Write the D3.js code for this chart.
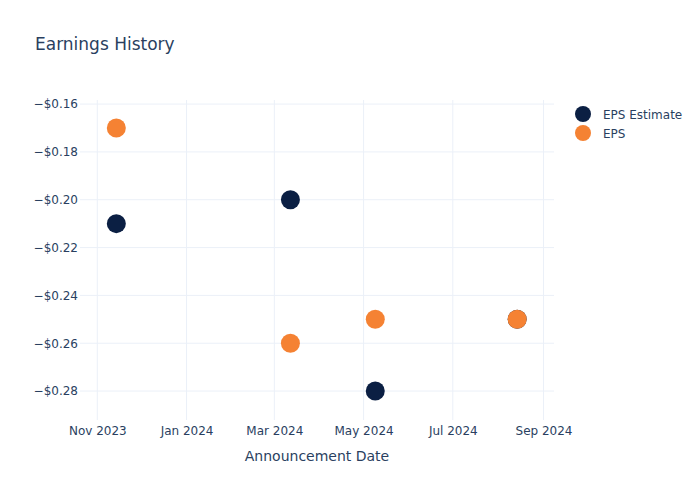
<!DOCTYPE html>
<html>
<head>
<meta charset="utf-8">
<script src="https://cdn.jsdelivr.net/npm/d3@7"></script>
<style>
  html, body { margin: 0; padding: 0; background: #fff; }
  svg { display: block; font-family: "DejaVu Sans", sans-serif; }
</style>
</head>
<body>
<svg id="chart" width="700" height="500"></svg>
<script>
const dates = ["2023-11-14", "2024-03-12", "2024-05-09", "2024-08-14"];
const epsEstimate = [-0.21, -0.20, -0.28, -0.25];
const eps = [-0.17, -0.26, -0.25, -0.25];
const seriesNames = ["EPS Estimate", "EPS"];
const seriesColors = ["#0b1f43", "#f58233"];
const yTicks = [-0.28, -0.26, -0.24, -0.22, -0.20, -0.18, -0.16];

const W = 700, H = 500;
const m = {l: 80, r: 146, t: 100, b: 80};
const svg = d3.select("#chart");
const parse = d3.utcParse("%Y-%m-%d");

const x = d3.scaleUtc()
  .domain([new Date(Date.UTC(2023, 9, 20, 4)), new Date(Date.UTC(2024, 8, 8, 4))])
  .range([m.l, W - m.r]);
const y = d3.scaleLinear()
  .domain([-0.2921, -0.1583])
  .range([H - m.b, m.t]);

const textColor = "#2a3f5f";
const gridColor = "#ebf0f8";

// grid
const xTicks = x.ticks(d3.utcMonth.every(2));
svg.append("g").selectAll("line").data(xTicks).join("line")
  .attr("x1", d => x(d)).attr("x2", d => x(d))
  .attr("y1", m.t).attr("y2", H - m.b)
  .attr("stroke", gridColor).attr("stroke-width", 1);
svg.append("g").selectAll("line").data(yTicks).join("line")
  .attr("x1", m.l).attr("x2", W - m.r)
  .attr("y1", d => y(d)).attr("y2", d => y(d))
  .attr("stroke", gridColor).attr("stroke-width", 1);

// axes
const fmtY = d => (d < 0 ? "\u2212" : "") + "$" + Math.abs(d).toFixed(2);
const yAxis = d3.axisLeft(y).tickValues(yTicks).tickFormat(fmtY).tickSize(0).tickPadding(2);
const gy = svg.append("g").attr("transform", `translate(${m.l},0)`).call(yAxis);
gy.select(".domain").remove();
gy.selectAll("text").attr("fill", textColor).attr("font-size", 12)
  .attr("font-family", "DejaVu Sans, sans-serif");

const xAxis = d3.axisBottom(x).tickValues(xTicks).tickFormat(d3.utcFormat("%b %Y")).tickSize(0).tickPadding(6);
const gx = svg.append("g").attr("transform", `translate(0,${H - m.b})`).call(xAxis);
gx.select(".domain").remove();
gx.selectAll("text").attr("fill", textColor).attr("font-size", 12)
  .attr("font-family", "DejaVu Sans, sans-serif");

// points
const series = [epsEstimate, eps];
series.forEach((vals, si) => {
  svg.append("g").selectAll("circle").data(vals).join("circle")
    .attr("cx", (d, i) => x(parse(dates[i])))
    .attr("cy", d => y(d))
    .attr("r", 9.5)
    .attr("fill", seriesColors[si]);
});

// title
svg.append("text").attr("x", 35).attr("y", 50)
  .attr("fill", textColor).attr("font-size", 17).text("Earnings History");

// x axis title
svg.append("text").attr("x", (m.l + W - m.r) / 2).attr("y", 461)
  .attr("text-anchor", "middle").attr("fill", textColor).attr("font-size", 14)
  .text("Announcement Date");

// legend
const lg = svg.append("g");
seriesNames.forEach((name, i) => {
  const yy = 114 + i * 19;
  lg.append("circle").attr("cx", 583).attr("cy", yy).attr("r", 8).attr("fill", seriesColors[i]);
  lg.append("text").attr("x", 603).attr("y", yy + 4.5).attr("fill", textColor)
    .attr("font-size", 12).text(name);
});
</script>
</body>
</html>
